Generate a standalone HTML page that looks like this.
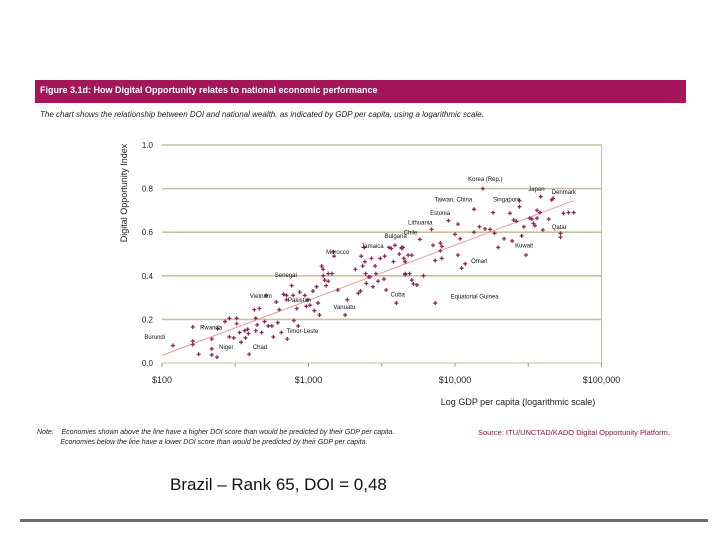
<!DOCTYPE html>
<html><head><meta charset="utf-8"><style>
html,body{margin:0;padding:0;background:#fff;width:728px;height:546px;overflow:hidden;font-family:"Liberation Sans",sans-serif;}
#wrap{position:relative;width:728px;height:546px;}
.abs{position:absolute;white-space:nowrap;}
</style></head><body>
<div id="wrap">
<div class="abs" style="left:35px;top:80px;width:651px;height:23px;background:#a3175a;"></div>
<div class="abs" style="left:40px;top:85px;color:#fff;font-size:9px;font-weight:bold;">Figure 3.1d: How Digital Opportunity relates to national economic performance</div>
<div class="abs" style="left:40px;top:110px;color:#222;font-size:8px;font-style:italic;">The chart shows the relationship between DOI and national wealth, as indicated by GDP per capita, using a logarithmic scale.</div>
<svg class="abs" style="left:0;top:0" width="728" height="546">
<g id="grid"></g><g id="marks"></g><g id="labels"></g>
</svg>
<div class="abs" style="left:37px;top:428px;font-size:7px;color:#222;line-height:10px;font-style:italic;">Note:&nbsp;&nbsp;&nbsp;&nbsp;Economies shown above the line have a higher DOI score than would be predicted by their GDP per capita.<br>&nbsp;&nbsp;&nbsp;&nbsp;&nbsp;&nbsp;&nbsp;&nbsp;&nbsp;&nbsp;&nbsp;&nbsp;Economies below the line have a lower DOI score than would be predicted by their GDP per capita.</div>
<div class="abs" style="left:478px;top:428px;font-size:7.5px;color:#8a1650;">Source: ITU/UNCTAD/KADO Digital Opportunity Platform.</div>
<div class="abs" style="left:170px;top:475px;font-size:17px;color:#111;">Brazil – Rank 65, DOI = 0,48</div>
<div class="abs" style="left:20px;top:519px;width:688px;height:3px;background:#6e6e6e;"></div>
</div>
<script>
const yTicks=[0.0,0.2,0.4,0.6,0.8,1.0];
const yTickLabels=["0.0","0.2","0.4","0.6","0.8","1.0"];
const xTicks=[2,3,4,5];
const xTickLabels=["$100","$1,000","$10,000","$100,000"];
const logGdp=[2.075,2.21,2.21,2.21,2.25,2.34,2.34,2.34,2.375,2.38,2.43,2.46,2.46,2.49,2.51,2.51,2.53,2.54,2.565,2.57,2.585,2.59,2.595,2.63,2.64,2.64,2.65,2.665,2.68,2.70,2.71,2.725,2.75,2.76,2.78,2.79,2.80,2.815,2.83,2.85,2.85,2.855,2.885,2.895,2.90,2.92,2.93,2.94,2.975,2.985,2.995,3.01,3.03,3.04,3.055,3.065,3.075,3.09,3.10,3.10,3.11,3.12,3.135,3.135,3.16,3.17,3.175,3.20,3.25,3.265,3.32,3.34,3.355,3.36,3.37,3.38,3.385,3.39,3.395,3.41,3.42,3.43,3.44,3.455,3.46,3.475,3.49,3.515,3.52,3.53,3.55,3.565,3.58,3.59,3.60,3.62,3.635,3.645,3.66,3.66,
3.636,3.65,3.66,3.68,3.705,3.66,3.69,3.705,3.716,3.74,3.785,3.76,3.84,3.85,3.865,3.90,3.91,3.90,3.91,3.865,3.955,4.0,4.02,4.035,4.02,4.045,4.07,4.13,4.13,4.167,4.19,4.205,4.24,4.26,4.27,4.295,4.335,4.375,4.39,4.40,4.42,4.44,4.44,4.455,4.47,4.485,4.51,4.525,4.535,4.546,4.56,4.56,4.58,4.585,4.60,4.64,4.66,4.67,4.72,4.72,4.74,4.775,4.81];
const doi=[0.08,0.165,0.10,0.085,0.04,0.11,0.065,0.037,0.027,0.158,0.19,0.205,0.12,0.115,0.205,0.18,0.14,0.095,0.148,0.115,0.155,0.135,0.04,0.245,0.205,0.148,0.175,0.25,0.14,0.19,0.31,0.17,0.17,0.12,0.28,0.185,0.245,0.14,0.315,0.31,0.29,0.11,0.355,0.31,0.195,0.25,0.17,0.325,0.31,0.26,0.29,0.265,0.33,0.24,0.35,0.275,0.22,0.445,0.43,0.40,0.38,0.355,0.41,0.375,0.41,0.51,0.49,0.335,0.22,0.29,0.43,0.32,0.33,0.49,0.445,0.53,0.465,0.41,0.365,0.395,0.395,0.48,0.35,0.445,0.41,0.375,0.48,0.385,0.49,0.335,0.53,0.525,0.465,0.54,0.275,0.50,0.53,0.53,0.465,0.405,
0.526,0.48,0.465,0.495,0.495,0.41,0.41,0.38,0.363,0.358,0.40,0.567,0.613,0.54,0.47,0.55,0.535,0.515,0.48,0.275,0.653,0.59,0.637,0.57,0.495,0.435,0.455,0.705,0.60,0.625,0.80,0.615,0.613,0.69,0.595,0.53,0.57,0.687,0.56,0.656,0.65,0.717,0.745,0.583,0.625,0.495,0.664,0.66,0.64,0.63,0.70,0.664,0.69,0.763,0.61,0.66,0.748,0.755,0.595,0.577,0.687,0.69,0.69];
const trendX=[2,4.81];
const trendY=[0.035,0.745];
const labelNames=["Burundi","Rwanda","Niger","Chad","Timor-Leste","Pakistan","Vanuatu","Vietnam","Senegal","Morocco","Jamaica","Bulgaria","Cuba","Chile","Lithuania","Estonia","Taiwan, China","Korea (Rep.)","Singapore","Japan","Denmark","Qatar","Kuwait","Oman","Equatorial Guinea"];
const labelX=[1.88,2.26,2.39,2.62,2.85,2.86,3.17,2.60,2.77,3.12,3.36,3.52,3.56,3.65,3.68,3.83,3.86,4.09,4.26,4.5,4.66,4.66,4.41,4.11,3.97];
const labelY=[0.11,0.153,0.065,0.065,0.137,0.28,0.247,0.298,0.395,0.50,0.527,0.573,0.305,0.590,0.635,0.68,0.74,0.835,0.74,0.79,0.775,0.615,0.53,0.458,0.295];
const NS="http://www.w3.org/2000/svg";
const X0=162,DEC=146.5,Y0=363,YS=218;
function sx(v){return X0+(v-2)*DEC;}
function sy(v){return Y0-v*YS;}
function mk(t,a,p){const e=document.createElementNS(NS,t);for(const k in a)e.setAttribute(k,a[k]);p.appendChild(e);return e;}
const grid=document.getElementById('grid'),marks=document.getElementById('marks'),labels=document.getElementById('labels');
yTicks.forEach((t,i)=>{
  const l=mk('line',{x1:sx(2),x2:sx(5),y1:sy(t),y2:sy(t),stroke:'#c9c19f','stroke-width':i==0?1:1.6},grid);
  
  
  const tx=mk('text',{x:sx(2)-9,y:sy(t)+3,'text-anchor':'end','font-size':'8','fill':'#222','font-family':'Liberation Sans, sans-serif'},grid);
  tx.textContent=yTickLabels[i];
  
  
});
const rb=mk('line',{x1:sx(5),x2:sx(5),y1:sy(1),y2:sy(0),stroke:'#c9c19f','stroke-width':1},grid);


xTicks.forEach((t,i)=>{
  const tk=mk('line',{x1:sx(t),x2:sx(t),y1:sy(0),y2:sy(0)+4,stroke:'#999'},grid);
  
  
  if(t<5){const m=mk('line',{x1:sx(t+0.5),x2:sx(t+0.5),y1:sy(0),y2:sy(0)+4,stroke:'#999'},grid);
  
  }
  const tx=mk('text',{x:sx(t),y:sy(0)+20,'text-anchor':'middle','font-size':'9','fill':'#222','font-family':'Liberation Sans, sans-serif'},grid);
  tx.textContent=xTickLabels[i];
  
  
});
const xt=mk('text',{x:518,y:405,'text-anchor':'middle','font-size':'9','fill':'#222','font-family':'Liberation Sans, sans-serif'},grid);
xt.textContent='Log GDP per capita (logarithmic scale)';


const yt=mk('text',{x:0,y:0,'text-anchor':'middle','font-size':'9','fill':'#222','font-family':'Liberation Sans, sans-serif',transform:'translate(127,193) rotate(-90)'},grid);
yt.textContent='Digital Opportunity Index';


const tl=mk('line',{x1:sx(trendX[0]),y1:sy(trendY[0]),x2:sx(trendX[1]),y2:sy(trendY[1]),stroke:'#e89a9a','stroke-width':1},marks);


logGdp.forEach((g,i)=>{
  const x=sx(g),y=sy(doi[i]);
  const p=mk('path',{d:`M${x-2} ${y}H${x+2}M${x} ${y-2}V${y+2}`,stroke:'#8a2a5c','stroke-width':1.3},marks);
  
  
});
labelNames.forEach((n,i)=>{
  const t=mk('text',{x:sx(labelX[i]),y:sy(labelY[i]),'font-size':'6','fill':'#111','font-family':'Liberation Sans, sans-serif'},labels);
  t.textContent=n;
  
  
});
</script>
</body></html>
